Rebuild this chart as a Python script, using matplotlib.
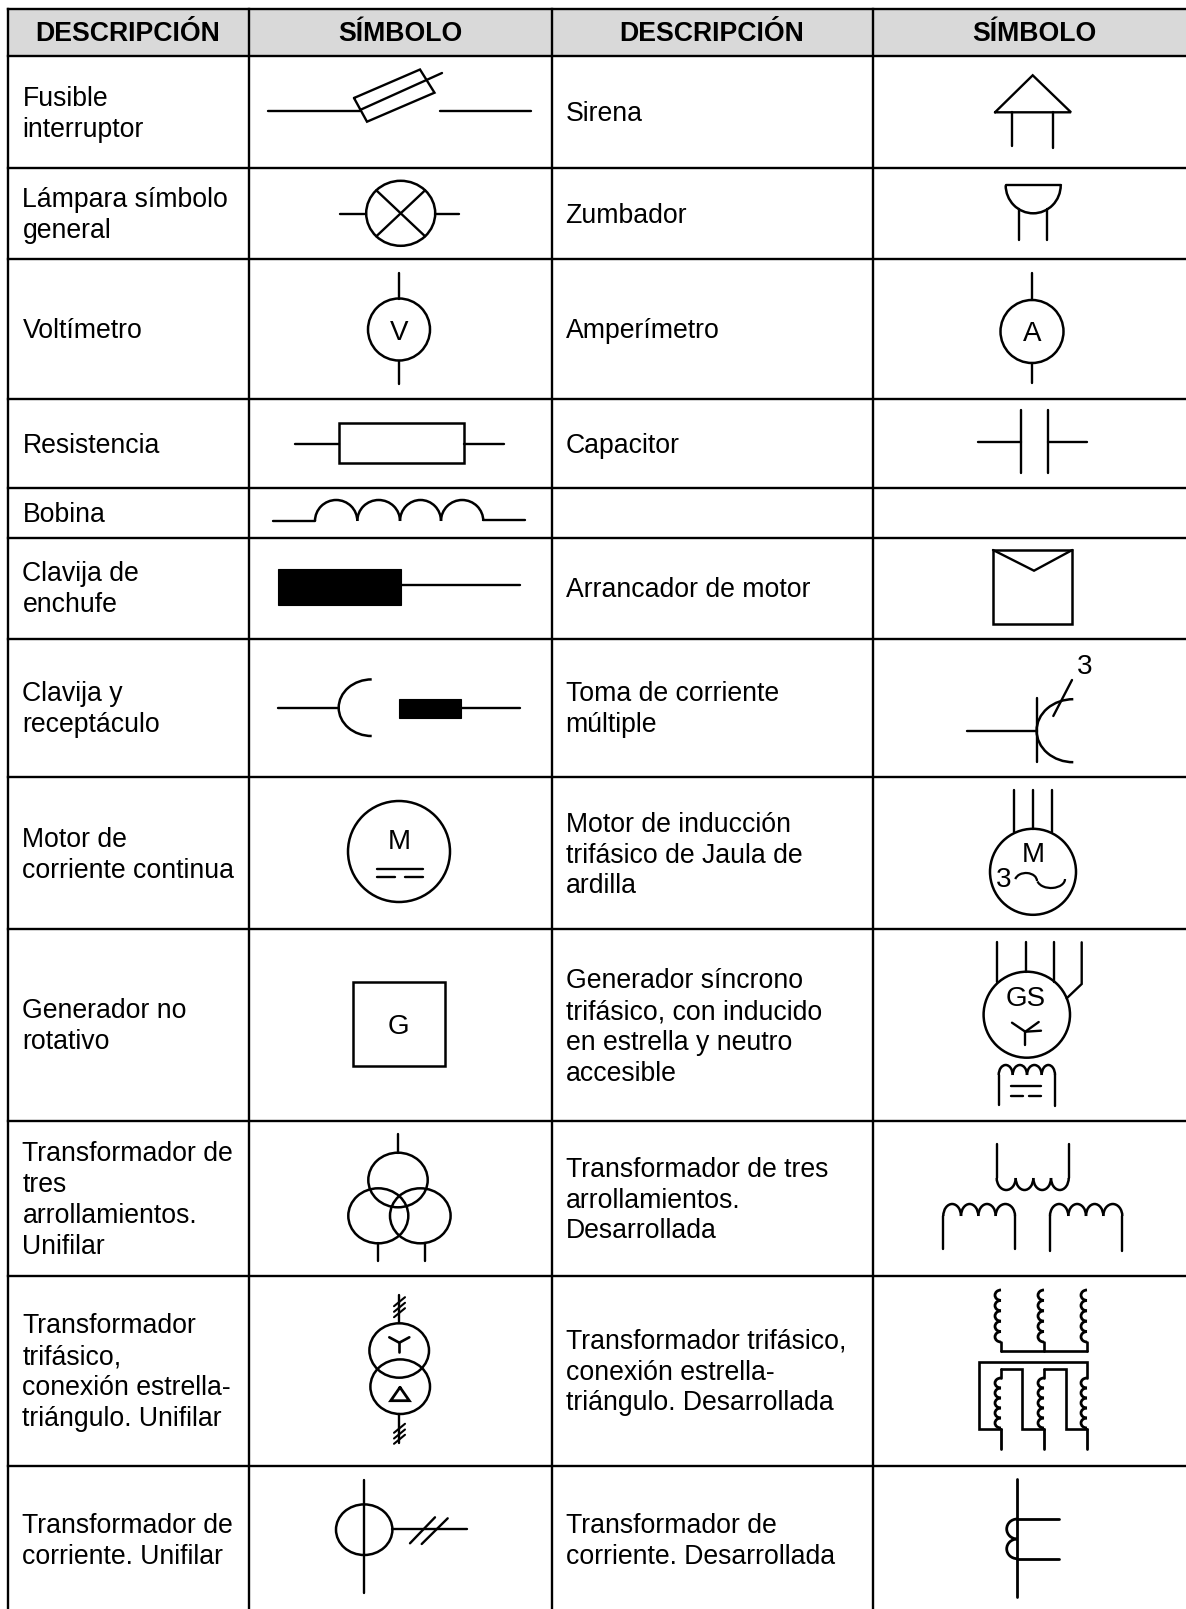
import matplotlib
matplotlib.use('Agg')
import matplotlib.pyplot as plt
from matplotlib.patches import Arc, Ellipse, Rectangle

plt.rcParams['font.family'] = ['Liberation Sans', 'DejaVu Sans']

W, H = 1186, 1609
TEXT_SIZE = 19.2
LINE_GAP = 30.8

header_labels = ['DESCRIPCIÓN', 'SÍMBOLO', 'DESCRIPCIÓN', 'SÍMBOLO']
header_x = [128, 400, 712, 1034]
col_lines = [8, 248.5, 552, 873]
row_lines = [8.5, 56, 167.7, 259, 399, 487.7, 537.7, 639, 776.7, 929, 1121, 1275.7, 1465.7]

left_labels = [
    'Fusible\ninterruptor', 'Lámpara símbolo\ngeneral', 'Voltímetro', 'Resistencia', 'Bobina',
    'Clavija de\nenchufe', 'Clavija y\nreceptáculo', 'Motor de\ncorriente continua',
    'Generador no\nrotativo', 'Transformador de\ntres\narrollamientos.\nUnifilar',
    'Transformador\ntrifásico,\nconexión estrella-\ntriángulo. Unifilar',
    'Transformador de\ncorriente. Unifilar',
]
left_y = [114.5, 215.5, 330.5, 445.5, 514.5, 589.5, 709.5, 855.5, 1026.5, 1200.5, 1372.5, 1541.5]

right_labels = [
    'Sirena', 'Zumbador', 'Amperímetro', 'Capacitor', 'Arrancador de motor',
    'Toma de corriente\nmúltiple', 'Motor de inducción\ntrifásico de Jaula de\nardilla',
    'Generador síncrono\ntrifásico, con inducido\nen estrella y neutro\naccesible',
    'Transformador de tres\narrollamientos.\nDesarrollada',
    'Transformador trifásico,\nconexión estrella-\ntriángulo. Desarrollada',
    'Transformador de\ncorriente. Desarrollada',
]
right_y = [113.5, 215.5, 330.5, 445.5, 589.5, 709.5, 855.5, 1027.5, 1200.5, 1372.5, 1541.5]

fig = plt.figure(figsize=(W / 100, H / 100), dpi=100)
ax = fig.add_axes([0, 0, 1, 1])
ax.set_xlim(0, W)
ax.set_ylim(H, 0)
ax.axis('off')


def wire(xs, ys, lw=1.7):
    ax.plot(xs, ys, color='black', lw=lw, solid_capstyle='round', solid_joinstyle='miter')


def ring(cx, cy, rx, ry, lw=1.8):
    ax.add_patch(Ellipse((cx, cy), 2 * rx, 2 * ry, fc='none', ec='black', lw=lw))


def arc(cx, cy, rx, ry, t1, t2, lw=1.8):
    ax.add_patch(Arc((cx, cy), 2 * rx, 2 * ry, theta1=t1, theta2=t2, color='black', lw=lw))


def humps_up(xs, y, ry, lw=1.8):
    for x0, x1 in zip(xs[:-1], xs[1:]):
        arc((x0 + x1) / 2, y, (x1 - x0) / 2, ry, 180, 360, lw)


def humps_down(xs, y, ry, lw=1.8):
    for x0, x1 in zip(xs[:-1], xs[1:]):
        arc((x0 + x1) / 2, y, (x1 - x0) / 2, ry, 0, 180, lw)


def humps_left(x, ys, rx, lw=2.0):
    for y0, y1 in zip(ys[:-1], ys[1:]):
        arc(x, (y0 + y1) / 2, rx, (y1 - y0) / 2, 90, 270, lw)


def symbol_text(x, y, s, size=20):
    ax.text(x, y + 2, s, fontsize=size, ha='center', va='center', color='black')


def box(x0, y0, x1, y1, fill=False, lw=1.8):
    ax.add_patch(Rectangle((x0, y0), x1 - x0, y1 - y0, fc='black' if fill else 'none', ec='black', lw=lw))


def labels(x, texts, centers):
    for s, cy in zip(texts, centers):
        lines = s.split('\n')
        for i, line in enumerate(lines):
            y = cy + (i - (len(lines) - 1) / 2) * LINE_GAP
            ax.text(x, y, line, fontsize=TEXT_SIZE, ha='left', va='center', color='black')


# table
ax.add_patch(Rectangle((col_lines[0], row_lines[0]), W - col_lines[0], row_lines[1] - row_lines[0], fc='#d9d9d9', ec='none'))
for x in col_lines:
    ax.plot([x, x], [row_lines[0], H], color='black', lw=1.7)
for y in row_lines:
    ax.plot([col_lines[0], W], [y, y], color='black', lw=1.7)
for s, x in zip(header_labels, header_x):
    ax.text(x, 33.5, s, fontsize=19.2, fontweight='bold', ha='center', va='center', color='black')
labels(22.5, left_labels, left_y)
labels(565.5, right_labels, right_y)

# fusible
wire([268, 360], [111, 111])
wire([440, 531], [111, 111])
wire([354, 420, 434.5, 367, 354], [98, 69.5, 92.7, 121.7, 98])
wire([360, 442], [110, 73])

# lampara
ring(400.7, 213.3, 34.5, 32.5)
wire([340, 366], [213.5, 213.5])
wire([435, 459], [213.5, 213.5])
wire([376.3, 425.1], [190.3, 236.3])
wire([376.3, 425.1], [236.3, 190.3])

# voltimetro, amperimetro
ring(399, 329.5, 31, 31)
wire([399, 399], [273, 298.5])
wire([399, 399], [360.5, 384])
symbol_text(399, 331, 'V')
ring(1032, 331.5, 31.5, 31.5)
wire([1032, 1032], [273, 300])
wire([1032, 1032], [363, 383])
symbol_text(1032, 332, 'A')

# resistencia, capacitor
box(338.5, 422.7, 464, 462.7)
wire([294.5, 338.5], [443.5, 443.5])
wire([464, 504], [443.5, 443.5])
wire([978, 1021], [442, 442])
wire([1021, 1021], [410, 473])
wire([1047.5, 1047.5], [410, 473])
wire([1047.5, 1086.5], [442, 442])

# bobina
wire([273.3, 315], [521.3, 521.3])
humps_up([315, 357.3, 400, 441, 483.3], 521, 21)
wire([483.3, 525], [520.3, 520.3])

# clavija de enchufe
box(278.3, 568.7, 400.7, 605.3, fill=True, lw=0.8)
wire([400, 520], [585.3, 585.3])

# arrancador
box(993, 550, 1072.3, 623.7)
wire([993, 1034, 1072.3], [550, 570.7, 550])

# clavija y receptaculo
wire([278.3, 338.3], [707.7, 707.7])
arc(371.7, 707.7, 33, 28.3, 90, 270)
box(398.7, 699.3, 461, 717.7, fill=True, lw=0.8)
wire([461, 520], [707.7, 707.7])

# toma multiple
wire([967.3, 1036.7], [730.7, 730.7])
wire([1036.7, 1036.7], [697.7, 762.3])
arc(1073.3, 730.7, 36.7, 31.5, 90, 270)
wire([1053.3, 1072], [716, 680])
symbol_text(1085, 665, '3')

# motor cc
ring(399, 851.5, 51, 50.5)
symbol_text(399, 840, 'M')
wire([376.5, 422.7], [869, 869])
wire([376.5, 395], [877.2, 877.2])
wire([405, 422.7], [877.2, 877.2])

# motor trifasico
ring(1033, 871.8, 43, 43)
wire([1013.7, 1013.7], [790, 832])
wire([1033, 1033], [790, 829])
wire([1052.3, 1052.3], [790, 832])
symbol_text(1033, 853, 'M')
symbol_text(1004, 878, '3')
arc(1026, 881, 11, 8, 190, 360, 1.6)
arc(1051, 879, 14, 9, 0, 170, 1.6)

# generador
box(353, 982, 445, 1066)
symbol_text(398, 1025, 'G')

# generador sincrono
ring(1026.8, 1014.7, 43.2, 43)
wire([997.3, 997.3], [942.3, 982])
wire([1026, 1026], [942.3, 972])
wire([1054, 1054], [942.3, 982])
wire([1081.7, 1081.7, 1066.7], [942.3, 984, 998.3])
symbol_text(1026, 997, 'GS')
wire([1025.3, 1025.3], [1045, 1031.7])
wire([1012, 1025.3, 1038.7], [1022.7, 1031.7, 1022])
wire([1025.3, 1041], [1031.7, 1030.7])
humps_up([998.7, 1012.7, 1027, 1041.7, 1055], 1075, 10)
wire([998.7, 998.7], [1075, 1105])
wire([1055, 1055], [1075, 1105.7])
wire([1011, 1041], [1085.7, 1085.7])
wire([1011, 1022.7], [1096, 1096])
wire([1029.3, 1041], [1096, 1096])

# sirena, zumbador
wire([995, 1032.7, 1071, 995], [112.3, 75.3, 112.3, 112.3])
wire([1012, 1012], [112.3, 146.3])
wire([1053.3, 1053.3], [112.3, 147.7])
wire([1005.7, 1060.7], [185.3, 185.3])
arc(1033.2, 185.3, 27.5, 28, 0, 180)
wire([1018.7, 1018.7], [209.3, 240.3])
wire([1047, 1047], [209.3, 240.3])

# transformador tres arrollamientos unifilar
ring(398, 1180, 29.7, 27.3)
ring(378.3, 1215.8, 30, 27.5)
ring(420.3, 1215.8, 30.3, 27.5)
wire([398, 398], [1134, 1152.7])
wire([378.3, 378.3], [1243.3, 1261])
wire([425.3, 425.3], [1243.3, 1261])

# transformador tres arrollamientos desarrollada
humps_down([996.7, 1015.7, 1033.3, 1051, 1068.7], 1178, 12)
wire([996.7, 996.7], [1144, 1178])
wire([1068.7, 1068.7], [1144, 1178])
humps_up([943.3, 961, 978.3, 995.7, 1015], 1216, 12)
wire([943.3, 943.3], [1216, 1249.3])
wire([1015, 1015], [1216, 1249.3])
humps_up([1050, 1068.3, 1086, 1103.3, 1122.3], 1216, 12)
wire([1050, 1050], [1216, 1250.7])
wire([1122.3, 1122.3], [1216, 1250.7])

# transformador trifasico unifilar
ring(399.2, 1350.5, 29.8, 27.2)
ring(400.2, 1386.7, 29.8, 27.3)
wire([399.3, 399.3], [1295, 1323.3])
wire([399.3, 399.3], [1414, 1443.3])
for y in [1301.7, 1307.3, 1312.7, 1428.3, 1434, 1439.3]:
    wire([394, 405], [y + 4.5, y - 4.5], 1.5)
wire([389.3, 399.3, 409.3], [1337.3, 1342.7, 1337.3], 1.9)
wire([399.3, 399.3], [1342.7, 1351.7], 1.9)
wire([400, 390.7, 409.3, 400], [1387.3, 1400.7, 1400.7, 1387.3], 2.0)

# transformador trifasico desarrollada
coil_top = [1290, 1300.4, 1310.8, 1321.2, 1331.6, 1342]
coil_low = [1378, 1388, 1398, 1408, 1418, 1428]
for x in [1001, 1044, 1087]:
    humps_left(x, coil_top, 6)
    wire([x, x], [1342, 1350.7], 1.9)
    humps_left(x, coil_low, 6)
    wire([x, x], [1429.3, 1449], 2.0)
wire([1001, 1087], [1350.7, 1350.7], 1.9)
wire([1001, 1001], [1369, 1378], 1.9)
wire([1044, 1044], [1369, 1378], 1.9)
wire([1087, 1087, 979, 979, 1001], [1378, 1361.7, 1361.7, 1429.3, 1429.3], 1.9)
wire([1001, 1022.3, 1022.3, 1044], [1369, 1369, 1429.3, 1429.3], 1.9)
wire([1044, 1065.7, 1065.7, 1087], [1369, 1369, 1429.3, 1429.3], 1.9)

# transformador de corriente unifilar
ring(364.2, 1529.7, 28.2, 25.3)
wire([364, 364], [1480, 1592.7])
wire([392, 466.7], [1529.3, 1529.3])
wire([410, 435], [1543.3, 1517.3])
wire([421.7, 447.7], [1544, 1518.3])

# transformador de corriente desarrollada
wire([1017.3, 1017.3], [1479.3, 1597.3], 2.0)
wire([1017.3, 1059.3], [1519, 1519], 2.0)
wire([1017.3, 1058.7], [1558.7, 1558.7], 2.0)
humps_left(1017.3, [1519, 1539, 1558.7], 10.6, 2.0)

fig.savefig('out.png', dpi=100)
